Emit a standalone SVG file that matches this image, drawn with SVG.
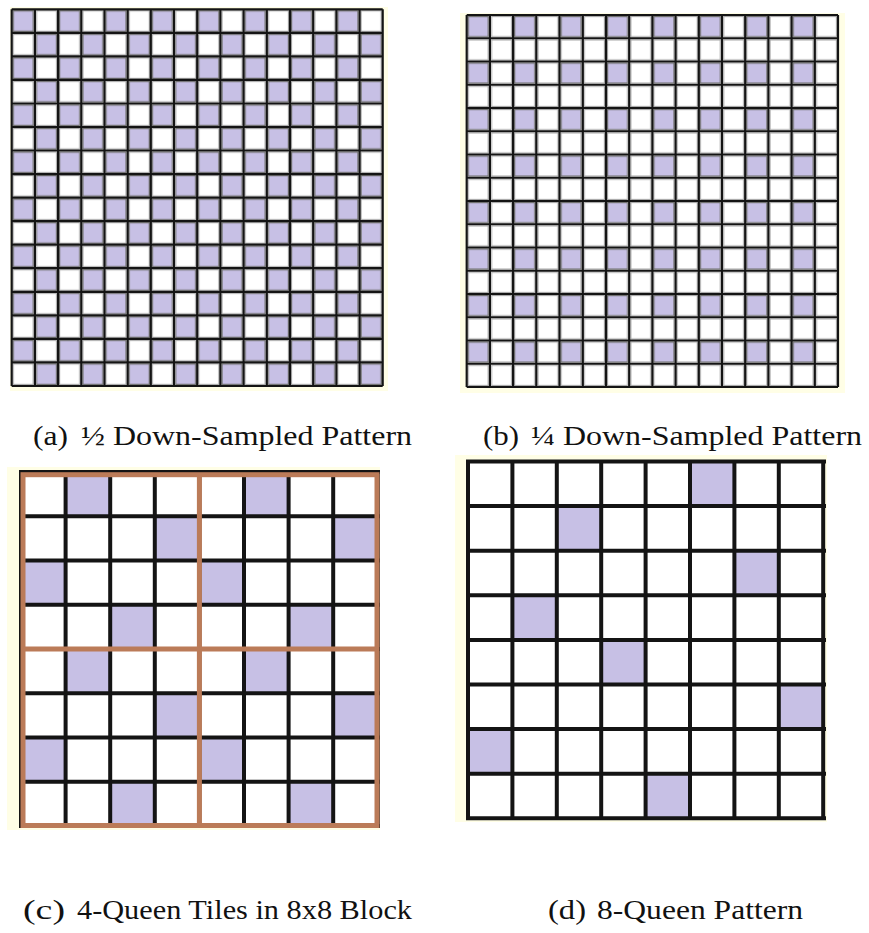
<svg xmlns="http://www.w3.org/2000/svg" width="869" height="933" viewBox="0 0 869 933">
<style>
.cream{fill:#fffee6}
.thin{fill:none;stroke:#141414;stroke-width:2.2}
.thick{fill:none;stroke:#141414;stroke-width:4}
.brown{fill:none;stroke:#bb7b58;stroke-width:5}
.q{fill:#c7c0e5}
.cap{font-family:"Liberation Serif","Times New Roman",serif;font-size:28px;fill:#111}
</style>
<defs>
<pattern id="pa" patternUnits="userSpaceOnUse" x="11.7" y="9.3" width="46.38" height="47.08">
<rect width="46.38" height="47.08" fill="#fff"/>
<rect x="1.6" y="1.6" width="20" height="20.34" fill="#c7c0e5" stroke="#707070" stroke-width="1.2"/>
<rect x="24.79" y="25.14" width="20" height="20.34" fill="#c7c0e5" stroke="#707070" stroke-width="1.2"/>
<rect x="24.79" y="1.6" width="20" height="20.34" fill="#fff" stroke="#a0a0a0" stroke-width="1"/>
<rect x="1.6" y="25.14" width="20" height="20.34" fill="#fff" stroke="#a0a0a0" stroke-width="1"/>
</pattern>
<pattern id="pb" patternUnits="userSpaceOnUse" x="466.7" y="15" width="46.42" height="46.5">
<rect width="46.42" height="46.5" fill="#fff"/>
<rect x="1.6" y="1.6" width="20" height="20.05" fill="#c7c0e5" stroke="#707070" stroke-width="1.2"/>
<rect x="24.81" y="1.6" width="20" height="20.05" fill="#fff" stroke="#a0a0a0" stroke-width="1"/>
<rect x="1.6" y="24.85" width="20" height="20.05" fill="#fff" stroke="#a0a0a0" stroke-width="1"/>
<rect x="24.81" y="24.85" width="20" height="20.05" fill="#fff" stroke="#a0a0a0" stroke-width="1"/>
</pattern>
</defs>
<rect width="869" height="933" fill="#fff"/>

<g id="panel-a">
<rect class="cream" x="10" y="7" width="378" height="384"/>
<rect x="11.7" y="9.3" width="371" height="376.7" fill="url(#pa)"/>
<path class="thin" d="M11.7 9.3V386M34.9 9.3V386M58.1 9.3V386M81.3 9.3V386M104.5 9.3V386M127.7 9.3V386M150.8 9.3V386M174 9.3V386M197.2 9.3V386M220.4 9.3V386M243.6 9.3V386M266.8 9.3V386M290 9.3V386M313.2 9.3V386M336.4 9.3V386M359.6 9.3V386M382.7 9.3V386M11.7 9.3H382.7M11.7 32.8H382.7M11.7 56.4H382.7M11.7 79.9H382.7M11.7 103.5H382.7M11.7 127H382.7M11.7 150.5H382.7M11.7 174.1H382.7M11.7 197.6H382.7M11.7 221.2H382.7M11.7 244.7H382.7M11.7 268.2H382.7M11.7 291.8H382.7M11.7 315.3H382.7M11.7 338.9H382.7M11.7 362.4H382.7M11.7 386H382.7"/>
</g>

<g id="panel-b">
<rect class="cream" x="460" y="13" width="385" height="380"/>
<rect x="466.7" y="15" width="371.3" height="372" fill="url(#pb)"/>
<path class="thin" d="M466.7 15V387M489.9 15V387M513.1 15V387M536.3 15V387M559.5 15V387M582.8 15V387M606 15V387M629.2 15V387M652.4 15V387M675.6 15V387M698.8 15V387M722 15V387M745.2 15V387M768.4 15V387M791.6 15V387M814.8 15V387M838 15V387M466.7 15H838M466.7 38.25H838M466.7 61.5H838M466.7 84.75H838M466.7 108H838M466.7 131.25H838M466.7 154.5H838M466.7 177.75H838M466.7 201H838M466.7 224.25H838M466.7 247.5H838M466.7 270.75H838M466.7 294H838M466.7 317.25H838M466.7 340.5H838M466.7 363.75H838M466.7 387H838"/>
</g>

<g id="panel-c">
<rect class="cream" x="7" y="467" width="373" height="363"/>
<rect x="21" y="472" width="356.8" height="354" fill="#fff"/>
<rect class="q" x="65.6" y="472" width="44.6" height="44.25"/>
<rect class="q" x="154.8" y="516.25" width="44.6" height="44.25"/>
<rect class="q" x="21" y="560.5" width="44.6" height="44.25"/>
<rect class="q" x="110.2" y="604.75" width="44.6" height="44.25"/>
<rect class="q" x="244" y="472" width="44.6" height="44.25"/>
<rect class="q" x="333.2" y="516.25" width="44.6" height="44.25"/>
<rect class="q" x="199.4" y="560.5" width="44.6" height="44.25"/>
<rect class="q" x="288.6" y="604.75" width="44.6" height="44.25"/>
<rect class="q" x="65.6" y="649" width="44.6" height="44.25"/>
<rect class="q" x="154.8" y="693.25" width="44.6" height="44.25"/>
<rect class="q" x="21" y="737.5" width="44.6" height="44.25"/>
<rect class="q" x="110.2" y="781.75" width="44.6" height="44.25"/>
<rect class="q" x="244" y="649" width="44.6" height="44.25"/>
<rect class="q" x="333.2" y="693.25" width="44.6" height="44.25"/>
<rect class="q" x="199.4" y="737.5" width="44.6" height="44.25"/>
<rect class="q" x="288.6" y="781.75" width="44.6" height="44.25"/>
<path class="thick" d="M21 470V828M65.6 470V828M110.2 470V828M154.8 470V828M199.4 470V828M244 470V828M288.6 470V828M333.2 470V828M377.8 470V828M19 472H380M19 516.25H380M19 560.5H380M19 604.75H380M19 649H380M19 693.25H380M19 737.5H380M19 781.75H380M19 826H380"/>
<rect class="brown" x="23" y="474.7" width="354" height="350.8"/>
<path class="brown" d="M199.4 474.7V825.5M23 649H377"/>
</g>

<g id="panel-d">
<rect class="cream" x="455" y="455" width="372" height="367"/>
<rect x="468" y="461.5" width="355.2" height="356.8" fill="#fff"/>
<rect class="q" x="690" y="461.5" width="44.4" height="44.6"/>
<rect class="q" x="556.8" y="506.1" width="44.4" height="44.6"/>
<rect class="q" x="734.4" y="550.7" width="44.4" height="44.6"/>
<rect class="q" x="512.4" y="595.3" width="44.4" height="44.6"/>
<rect class="q" x="601.2" y="639.9" width="44.4" height="44.6"/>
<rect class="q" x="778.8" y="684.5" width="44.4" height="44.6"/>
<rect class="q" x="468" y="729.1" width="44.4" height="44.6"/>
<rect class="q" x="645.6" y="773.7" width="44.4" height="44.6"/>
<path class="thick" d="M468 459.5V820.3M512.4 459.5V820.3M556.8 459.5V820.3M601.2 459.5V820.3M645.6 459.5V820.3M690 459.5V820.3M734.4 459.5V820.3M778.8 459.5V820.3M823.2 459.5V820.3M466 461.5H826M466 506.1H826M466 550.7H826M466 595.3H826M466 639.9H826M466 684.5H826M466 729.1H826M466 773.7H826M466 818.3H826"/>
</g>

<g id="captions">
<text class="cap" y="445"><tspan x="33" textLength="35" lengthAdjust="spacingAndGlyphs">(a)</tspan><tspan x="81" textLength="331" lengthAdjust="spacingAndGlyphs">½ Down-Sampled Pattern</tspan></text>
<text class="cap" y="445"><tspan x="483" textLength="36" lengthAdjust="spacingAndGlyphs">(b)</tspan><tspan x="531" textLength="331" lengthAdjust="spacingAndGlyphs">¼ Down-Sampled Pattern</tspan></text>
<text class="cap" y="919"><tspan x="23" textLength="42" lengthAdjust="spacingAndGlyphs">(c)</tspan><tspan x="77" textLength="335" lengthAdjust="spacingAndGlyphs">4-Queen Tiles in 8x8 Block</tspan></text>
<text class="cap" y="919"><tspan x="548" textLength="38" lengthAdjust="spacingAndGlyphs">(d)</tspan><tspan x="597" textLength="206" lengthAdjust="spacingAndGlyphs">8-Queen Pattern</tspan></text>
</g>
</svg>
